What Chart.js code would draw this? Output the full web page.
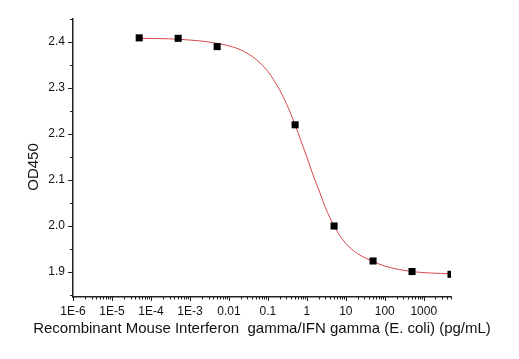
<!DOCTYPE html>
<html><head><meta charset="utf-8">
<style>html,body{margin:0;padding:0;background:#fff;}#wrap{width:519px;height:359px;}</style>
<script src="https://cdn.jsdelivr.net/npm/chart.js@4/dist/chart.umd.min.js"></script>
</head><body><div id="wrap"><canvas id="c" width="519" height="359"></canvas></div>
<script>
// Measured points
const concentrations = [5e-5, 5e-4, 5e-3, 0.5, 5, 50, 500, 5000];
const od450 = [2.409, 2.408, 2.390, 2.220, 2.000, 1.924, 1.901, 1.895];
// Fitted curve
const fitX = [5e-5, 5e-4, 5e-3, 0.02, 0.05, 0.1, 0.2, 0.3, 0.5, 0.7, 1, 1.5, 2, 3, 5, 10, 20, 50, 100, 500, 5000];
const fitY = [2.408, 2.406, 2.397, 2.383, 2.362, 2.336, 2.296, 2.266, 2.220, 2.186, 2.150, 2.107, 2.080, 2.040, 2.000, 1.962, 1.940, 1.923, 1.913, 1.901, 1.896];
// Axis ticks
const xDecades = [1e-6, 1e-5, 1e-4, 1e-3, 0.01, 0.1, 1, 10, 100, 1000];
const xTickLabels = ['1E-6', '1E-5', '1E-4', '1E-3', '0.01', '0.1', '1', '10', '100', '1000'];
const yMajor = [1.9, 2.0, 2.1, 2.2, 2.3, 2.4];
const yTickLabels = ['1.9', '2.0', '2.1', '2.2', '2.3', '2.4'];
const yMinor = [1.85, 1.95, 2.05, 2.15, 2.25, 2.35, 2.45];
const xTitle = 'Recombinant Mouse Interferon  gamma/IFN gamma (E. coli) (pg/mL)';
const yTitle = 'OD450';

const X_MIN = 1e-6, X_MAX = 5000, Y_MIN = 1.8457, Y_MAX = 2.45;
const FONT = "'Liberation Sans', Arial, sans-serif";

function xTickValues() {
  const vals = [];
  xDecades.forEach(d => {
    for (let k = 1; k <= 9; k++) {
      const v = d * k;
      if (v <= X_MAX * 1.0001) vals.push(v);
    }
  });
  return vals;
}
function isDecade(v) {
  return xDecades.some(d => Math.abs(v / d - 1) < 1e-6);
}
function isYMajor(v) {
  return yMajor.some(m => Math.abs(v - m) < 1e-6);
}

const axisDecor = {
  id: 'axisDecor',
  afterDraw(chart) {
    const ctx = chart.ctx, xs = chart.scales.x, ys = chart.scales.y;
    ctx.save();
    ctx.strokeStyle = '#222';
    ctx.lineWidth = 1;
    ctx.beginPath();
    xs.ticks.forEach(t => {
      const px = Math.round(xs.getPixelForValue(t.value)) + 0.5;
      const len = isDecade(t.value) ? 4 : 2.5;
      ctx.moveTo(px, ys.bottom);
      ctx.lineTo(px, ys.bottom + len);
    });
    ys.ticks.forEach(t => {
      const py = Math.round(ys.getPixelForValue(t.value)) + 0.5;
      const len = isYMajor(t.value) ? 5 : 3;
      ctx.moveTo(xs.left, py);
      ctx.lineTo(xs.left - len, py);
    });
    ctx.stroke();
    // axis titles
    ctx.fillStyle = '#111';
    ctx.font = '15px ' + FONT;
    ctx.textAlign = 'center';
    ctx.textBaseline = 'alphabetic';
    ctx.fillText(xTitle, (xs.left + xs.right) / 2, ys.bottom + 36);
    ctx.translate(38, (ys.top + ys.bottom) / 2 + 9);
    ctx.rotate(-Math.PI / 2);
    ctx.fillText(yTitle, 0, 0);
    ctx.restore();
  }
};

new Chart(document.getElementById('c'), {
  type: 'line',
  data: {
    datasets: [
      {
        label: 'fit',
        data: fitX.map((x, i) => ({x, y: fitY[i]})),
        borderColor: '#d84848',
        borderWidth: 1,
        pointRadius: 0,
        cubicInterpolationMode: 'monotone',
        fill: false,
        order: 2
      },
      {
        label: 'data',
        data: concentrations.map((x, i) => ({x, y: od450[i]})),
        showLine: false,
        pointStyle: 'rect',
        pointRadius: 5,
        pointBackgroundColor: '#000',
        pointBorderColor: '#000',
        pointBorderWidth: 0,
        order: 1
      }
    ]
  },
  options: {
    responsive: false,
    devicePixelRatio: 1,
    animation: false,
    layout: {padding: {top: 19, right: 68, left: 0, bottom: 0}},
    plugins: {legend: {display: false}, tooltip: {enabled: false}},
    scales: {
      x: {
        type: 'logarithmic',
        position: 'bottom',
        min: X_MIN, max: X_MAX,
        afterBuildTicks(scale) {
          scale.ticks = xTickValues().map(v => ({value: v}));
        },
        afterFit(scale) { scale.height = 62; },
        grid: {display: true, drawOnChartArea: false, drawTicks: false},
        border: {display: true, color: '#222', width: 1.5},
        ticks: {
          autoSkip: false, maxRotation: 0, minRotation: 0,
          padding: 7,
          color: '#111',
          font: {family: FONT, size: 12},
          callback(value) {
            const i = xDecades.findIndex(d => Math.abs(value / d - 1) < 1e-6);
            return i >= 0 ? xTickLabels[i] : '';
          }
        },
        title: {display: false}
      },
      y: {
        type: 'linear',
        position: 'left',
        min: Y_MIN, max: Y_MAX,
        afterBuildTicks(scale) {
          scale.ticks = yMajor.concat(yMinor).sort((a, b) => a - b).map(v => ({value: v}));
        },
        afterFit(scale) { scale.width = 73; },
        grid: {display: true, drawOnChartArea: false, drawTicks: false},
        border: {display: true, color: '#222', width: 1.5},
        ticks: {
          autoSkip: false,
          padding: 8,
          color: '#111',
          font: {family: FONT, size: 12},
          callback(value) {
            const i = yMajor.findIndex(m => Math.abs(value - m) < 1e-6);
            return i >= 0 ? yTickLabels[i] : '';
          }
        },
        title: {display: false}
      }
    }
  },
  plugins: [axisDecor]
});
</script></body></html>
